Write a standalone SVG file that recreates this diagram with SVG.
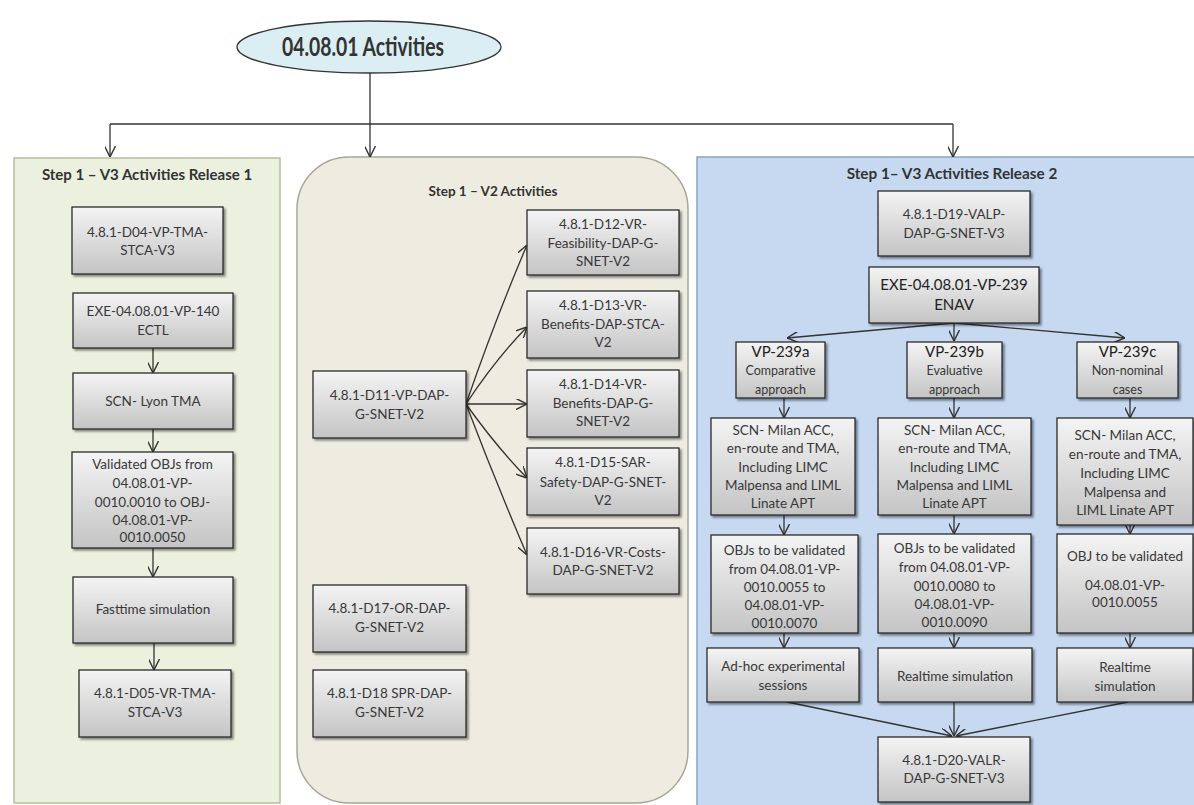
<svg xmlns="http://www.w3.org/2000/svg" width="1194" height="805" viewBox="0 0 1194 805">
<style>
.t{font-family:Lato,"Liberation Sans",sans-serif;font-size:13.5px;fill:#383838;text-anchor:middle}
.ts{font-family:Lato,"Liberation Sans",sans-serif;font-size:12.5px;fill:#383838;text-anchor:middle}
.tb{font-family:Lato,"Liberation Sans",sans-serif;font-size:15px;fill:#222;text-anchor:middle}
.h{font-family:Lato,"Liberation Sans",sans-serif;font-weight:bold;fill:#333;text-anchor:middle}
.box{fill:url(#g);stroke:#2b2b2b;stroke-width:1.3;filter:url(#sh)}
.c{fill:none;stroke:#333;stroke-width:1.3;marker-end:url(#a)}
.cl{fill:none;stroke:#333;stroke-width:1.3}
</style>
<defs>
<linearGradient id="g" x1="0" y1="0" x2="0" y2="1">
<stop offset="0" stop-color="#f4f4f4"/>
<stop offset="1" stop-color="#c4c4c4"/>
</linearGradient>
<filter id="sh" x="-10%" y="-10%" width="130%" height="130%">
<feDropShadow dx="2" dy="2" stdDeviation="1.2" flood-color="#000" flood-opacity="0.45"/>
</filter>
<marker id="a" viewBox="0 0 10 10" refX="10" refY="5" markerWidth="11" markerHeight="11" markerUnits="userSpaceOnUse" orient="auto">
<path d="M0,0 L10,5 L0,10" fill="none" stroke="#333" stroke-width="1.3"/>
</marker>
</defs>
<rect width="1194" height="805" fill="#fff"/>

<g id="panel-left">
<rect x="14" y="158" width="266" height="645" fill="#ebf1de" stroke="#b3c19a" stroke-width="1.5"/>
<text class="h" x="147" y="180" font-size="15">Step 1 – V3 Activities Release 1</text>
</g>
<g id="panel-mid">
<rect x="297" y="157" width="391" height="646" rx="52" ry="52" fill="#eeece1" stroke="#a9a697" stroke-width="1.5"/>
<text class="h" x="493" y="196" font-size="13.5">Step 1 – V2 Activities</text>
</g>
<g id="panel-right">
<rect x="697" y="157" width="500" height="650" fill="#c6d9f1" stroke="#8aa4c4" stroke-width="1.5"/>
<text class="h" x="952" y="179" font-size="15.3">Step 1– V3 Activities Release 2</text>
</g>

<g id="root">
<ellipse cx="369" cy="47" rx="132" ry="26" fill="#daeef3" stroke="#333" stroke-width="1.3"/>
<text class="h" x="363" y="56" font-size="26" fill="#222" textLength="162" lengthAdjust="spacingAndGlyphs">04.08.01 Activities</text>
</g>

<g id="connectors">
<path class="cl" d="M370,73 V124 M110,124 H953"/>
<path class="c" d="M110,124 V157"/>
<path class="c" d="M370,124 V157"/>
<path class="c" d="M953,124 V157"/>
<path class="c" d="M153,348 V373"/>
<path class="c" d="M153,429 V452"/>
<path class="c" d="M153,548 V577"/>
<path class="c" d="M154,643 V670"/>
<path class="c" d="M466,404 Q495,320 527,245"/>
<path class="c" d="M466,404 Q495,360 527,327"/>
<path class="c" d="M466,404 H527"/>
<path class="c" d="M466,404 Q495,445 527,478"/>
<path class="c" d="M466,404 Q495,480 527,555"/>
<path class="c" d="M954,323 L787,338"/>
<path class="c" d="M954,323 V341"/>
<path class="c" d="M954,323 L1125,338"/>
<path class="c" d="M784,398 V418"/>
<path class="c" d="M954,398 V418"/>
<path class="c" d="M1130,398 V418"/>
<path class="c" d="M784,515 V535"/>
<path class="c" d="M954,515 V534"/>
<path class="c" d="M1130,525 V534"/>
<path class="c" d="M784,633 V648"/>
<path class="c" d="M954,633 V648"/>
<path class="c" d="M1130,633 V648"/>
<path class="c" d="M787,702 L952,736"/>
<path class="c" d="M954,702 V736"/>
<path class="c" d="M1128,702 L956,736"/>
</g>

<g id="n-d04"><rect class="box" x="72" y="207" width="151" height="67"/>
<text class="t" x="147.5" y="237">4.8.1-D04-VP-TMA-</text><text class="t" x="147.5" y="255">STCA-V3</text></g>
<g id="n-exe140"><rect class="box" x="73" y="293" width="160" height="55"/>
<text class="t" x="153" y="316">EXE-04.08.01-VP-140</text><text class="t" x="153" y="335">ECTL</text></g>
<g id="n-lyon"><rect class="box" x="73" y="373" width="160" height="56"/>
<text class="t" x="153" y="406">SCN- Lyon TMA</text></g>
<g id="n-valobj"><rect class="box" x="72" y="452" width="161" height="96"/>
<text class="t" x="152.5" y="469">Validated OBJs from</text><text class="t" x="152.5" y="488">04.08.01-VP-</text><text class="t" x="152.5" y="507">0010.0010 to OBJ-</text><text class="t" x="152.5" y="525">04.08.01-VP-</text><text class="t" x="152.5" y="542">0010.0050</text></g>
<g id="n-fast"><rect class="box" x="73" y="577" width="160" height="66"/>
<text class="t" x="153" y="614">Fasttime simulation</text></g>
<g id="n-d05"><rect class="box" x="79" y="670" width="152" height="67"/>
<text class="t" x="155" y="698">4.8.1-D05-VR-TMA-</text><text class="t" x="155" y="717">STCA-V3</text></g>

<g id="n-d11"><rect class="box" x="313" y="371" width="153" height="67"/>
<text class="t" x="389.5" y="400">4.8.1-D11-VP-DAP-</text><text class="t" x="389.5" y="419">G-SNET-V2</text></g>
<g id="n-d12"><rect class="box" x="527" y="210" width="152" height="65"/>
<text class="t" x="603" y="229">4.8.1-D12-VR-</text><text class="t" x="603" y="248">Feasibility-DAP-G-</text><text class="t" x="603" y="266">SNET-V2</text></g>
<g id="n-d13"><rect class="box" x="527" y="291" width="152" height="67"/>
<text class="t" x="603" y="310">4.8.1-D13-VR-</text><text class="t" x="603" y="329">Benefits-DAP-STCA-</text><text class="t" x="603" y="347">V2</text></g>
<g id="n-d14"><rect class="box" x="527" y="370" width="152" height="67"/>
<text class="t" x="603" y="389">4.8.1-D14-VR-</text><text class="t" x="603" y="408">Benefits-DAP-G-</text><text class="t" x="603" y="426">SNET-V2</text></g>
<g id="n-d15"><rect class="box" x="527" y="448" width="152" height="67"/>
<text class="t" x="603" y="467">4.8.1-D15-SAR-</text><text class="t" x="603" y="487">Safety-DAP-G-SNET-</text><text class="t" x="603" y="505">V2</text></g>
<g id="n-d16"><rect class="box" x="527" y="528" width="152" height="66"/>
<text class="t" x="603" y="557">4.8.1-D16-VR-Costs-</text><text class="t" x="603" y="575">DAP-G-SNET-V2</text></g>
<g id="n-d17"><rect class="box" x="313" y="585" width="153" height="67"/>
<text class="t" x="389.5" y="613">4.8.1-D17-OR-DAP-</text><text class="t" x="389.5" y="632">G-SNET-V2</text></g>
<g id="n-d18"><rect class="box" x="313" y="670" width="153" height="67"/>
<text class="t" x="389.5" y="698">4.8.1-D18 SPR-DAP-</text><text class="t" x="389.5" y="717">G-SNET-V2</text></g>

<g id="n-d19"><rect class="box" x="878" y="191" width="152" height="65"/>
<text class="t" x="954" y="219">4.8.1-D19-VALP-</text><text class="t" x="954" y="238">DAP-G-SNET-V3</text></g>
<g id="n-exe239"><rect class="box" x="869" y="267" width="170" height="56"/>
<text class="tb" x="954" y="290">EXE-04.08.01-VP-239</text><text class="tb" x="954" y="310">ENAV</text></g>
<g id="n-239a"><rect class="box" x="736" y="342" width="89" height="56"/>
<text class="tb" x="780.5" y="357">VP-239a</text><text class="ts" x="780.5" y="375">Comparative</text><text class="ts" x="780.5" y="394">approach</text></g>
<g id="n-239b"><rect class="box" x="907" y="342" width="95" height="56"/>
<text class="tb" x="954.5" y="357">VP-239b</text><text class="ts" x="954.5" y="375">Evaluative</text><text class="ts" x="954.5" y="394">approach</text></g>
<g id="n-239c"><rect class="box" x="1077" y="342" width="101" height="56"/>
<text class="tb" x="1127.5" y="357">VP-239c</text><text class="ts" x="1127.5" y="375">Non-nominal</text><text class="ts" x="1127.5" y="394">cases</text></g>
<g id="n-scna"><rect class="box" x="711" y="418" width="144" height="97"/>
<text class="t" x="783" y="435">SCN- Milan ACC,</text><text class="t" x="783" y="453">en-route and TMA,</text><text class="t" x="783" y="472">Including LIMC</text><text class="t" x="783" y="490">Malpensa and LIML</text><text class="t" x="783" y="508">Linate APT</text></g>
<g id="n-scnb"><rect class="box" x="878" y="418" width="153" height="97"/>
<text class="t" x="954.5" y="435">SCN- Milan ACC,</text><text class="t" x="954.5" y="453">en-route and TMA,</text><text class="t" x="954.5" y="472">Including LIMC</text><text class="t" x="954.5" y="490">Malpensa and LIML</text><text class="t" x="954.5" y="508">Linate APT</text></g>
<g id="n-scnc"><rect class="box" x="1057" y="418" width="136" height="107"/>
<text class="t" x="1125" y="440">SCN- Milan ACC,</text><text class="t" x="1125" y="459">en-route and TMA,</text><text class="t" x="1125" y="478">Including LIMC</text><text class="t" x="1125" y="497">Malpensa and</text><text class="t" x="1125" y="515">LIML Linate APT</text></g>
<g id="n-obja"><rect class="box" x="711" y="535" width="147" height="98"/>
<text class="t" x="784.5" y="555">OBJs to be validated</text><text class="t" x="784.5" y="574">from 04.08.01-VP-</text><text class="t" x="784.5" y="592">0010.0055 to</text><text class="t" x="784.5" y="610">04.08.01-VP-</text><text class="t" x="784.5" y="628">0010.0070</text></g>
<g id="n-objb"><rect class="box" x="878" y="534" width="153" height="99"/>
<text class="t" x="954.5" y="553">OBJs to be validated</text><text class="t" x="954.5" y="572">from 04.08.01-VP-</text><text class="t" x="954.5" y="591">0010.0080 to</text><text class="t" x="954.5" y="609">04.08.01-VP-</text><text class="t" x="954.5" y="627">0010.0090</text></g>
<g id="n-objc"><rect class="box" x="1057" y="534" width="136" height="99"/>
<text class="t" x="1125" y="561">OBJ to be validated</text><text class="t" x="1125" y="590">04.08.01-VP-</text><text class="t" x="1125" y="607">0010.0055</text></g>
<g id="n-adhoc"><rect class="box" x="707" y="648" width="152" height="54"/>
<text class="t" x="783" y="671">Ad-hoc experimental</text><text class="t" x="783" y="690">sessions</text></g>
<g id="n-rtb"><rect class="box" x="878" y="648" width="154" height="54"/>
<text class="t" x="955" y="681">Realtime simulation</text></g>
<g id="n-rtc"><rect class="box" x="1057" y="648" width="136" height="54"/>
<text class="t" x="1125" y="672">Realtime</text><text class="t" x="1125" y="691">simulation</text></g>
<g id="n-d20"><rect class="box" x="878" y="737" width="152" height="65"/>
<text class="t" x="954" y="765">4.8.1-D20-VALR-</text><text class="t" x="954" y="783">DAP-G-SNET-V3</text></g>
</svg>
